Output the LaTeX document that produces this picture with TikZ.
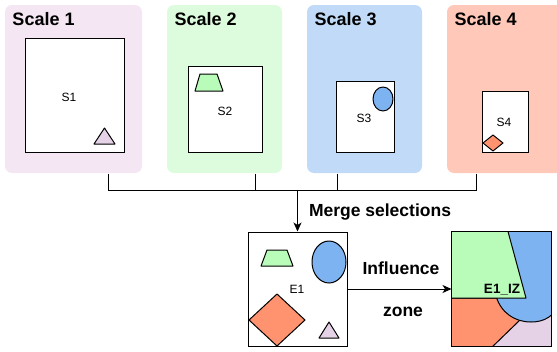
\documentclass[tikz,border=0pt]{standalone}
\usepackage{fontspec}
\setmainfont{Liberation Sans}
\usepackage{tikz}
\usetikzlibrary{arrows,arrows.meta,shapes,positioning,calc}
\definecolor{lilac}{HTML}{F4E6F2}
\definecolor{mint}{HTML}{DDFBDD}
\definecolor{sky}{HTML}{C1DAF7}
\definecolor{peach}{HTML}{FFC8B8}
\definecolor{shpink}{HTML}{E6D2E6}
\definecolor{shgreen}{HTML}{B9FBB9}
\definecolor{shblue}{HTML}{7EB3F2}
\definecolor{shsalmon}{HTML}{FF9370}
\tikzstyle{panel}=[rounded corners=7pt,inner sep=0pt,minimum height=168pt]
\tikzstyle{frame}=[draw,fill=white,inner sep=0pt,line width=1pt]
\tikzstyle{title}=[anchor=base west,inner sep=0pt,font=\fontsize{18}{20}\selectfont\bfseries]
\tikzstyle{lbl}=[inner sep=0pt,font=\fontsize{12}{14}\selectfont]
\tikzstyle{big}=[inner sep=0pt,font=\fontsize{17.5}{20}\selectfont\bfseries]
\tikzstyle{shp}=[draw,line width=1pt,line join=round]
\tikzstyle{flow}=[-{Stealth[length=9pt,width=8pt,inset=2.5pt]}]

\begin{document}
\begin{tikzpicture}[x=1pt,y=-1pt,line width=1pt]
\useasboundingbox (0,0) rectangle (557,351);

% the four scales
\node [panel,fill=lilac,minimum width=137pt] (p1) at (73.5,89) {};
\node [panel,fill=mint,minimum width=115pt] (p2) at (224.5,89) {};
\node [panel,fill=sky,minimum width=115pt] (p3) at (364.5,89) {};
\begin{scope}
\clip (0,0) rectangle (557,351);
\node [panel,fill=peach,minimum width=125pt] (p4) at (509.5,89) {};
\end{scope}
\node [title] (t1) at (12,25) {Scale 1};
\node [title] (t2) at (174,25) {Scale 2};
\node [title] (t3) at (314,25) {Scale 3};
\node [title] (t4) at (454,25) {Scale 4};

% selections
\node [frame,minimum width=99pt,minimum height=114pt] (s1) at (74.5,95) {};
\node [frame,minimum width=74pt,minimum height=86pt] (s2) at (225,109) {};
\node [frame,minimum width=58pt,minimum height=71pt] (s3) at (365,116.5) {};
\node [frame,minimum width=46pt,minimum height=61pt] (s4) at (505,121.5) {};
\node [lbl] (l1) at (69,97) {S1};
\node [lbl] (l2) at (225,111) {S2};
\node [lbl] (l3) at (364,118) {S3};
\node [lbl] (l4) at (504,122) {S4};
\draw [shp,fill=shpink] (94,144) -- (104.5,128) -- (115,144) -- cycle;
\draw [shp,fill=shgreen] (195,91) -- (200,74) -- (217,74) -- (223,91) -- cycle;
\draw [shp,fill=shblue] (383,99) ellipse [x radius=10,y radius=12];
\draw [shp,fill=shsalmon] (493,143) +(-10,0) -- +(0,-8) -- +(10,0) -- +(0,8) -- cycle;

% merged selection
\node [frame,minimum width=99pt,minimum height=114pt] (e1) at (297.5,289) {};
\node [frame,minimum width=99pt,minimum height=114pt] (iz) at (501.5,289) {};
\node [lbl] (le1) at (297,289) {E1};
\draw [shp,fill=shgreen] (261,266) -- (267,250) -- (287,250) -- (293,266) -- cycle;
\draw [shp,fill=shblue] (329,262) ellipse [x radius=17,y radius=21];
\draw [shp,fill=shsalmon] (277,320) +(-28,0) -- +(0,-26) -- +(28,0) -- +(0,26) -- cycle;
\draw [shp,fill=shpink] (319,338) -- (329,322) -- (339,338) -- cycle;

% influence zone
\begin{scope}
\clip (iz.north west) rectangle (iz.south east);
\draw [shp,fill=shpink] (488,350) -- (521,318) -- (560,300) -- (560,350) -- cycle;
\draw [shp,fill=shsalmon] (445,298) -- (500,298) -- (521,319) -- (489,350) -- (445,350) -- cycle;
\draw [shp,fill=shblue] (498,226) -- (560,226) -- (560,300)
  .. controls (556,317) and (543,322) .. (531,322)
  .. controls (515,322) and (501,313) .. (496,296) -- cycle;
\draw [shp,fill=shgreen] (445,226) -- (506.5,226) -- (526,298) -- (445,298) -- cycle;
\end{scope}
\draw [line width=1pt] (iz.north west) rectangle (iz.south east);
\node [inner sep=0pt,font=\fontsize{13.5}{15}\selectfont\bfseries] (liz) at (502,290) {E1\_IZ};

% connectors
\coordinate (j1) at (108,190.5);
\coordinate (j2) at (255,190.5);
\coordinate (j3) at (337,190.5);
\coordinate (j4) at (476,190.5);
\draw (p1.south -| j1) -- (j1);
\draw (p2.south -| j2) -- (j2);
\draw (p3.south -| j3) -- (j3);
\draw (p4.south -| j4) -- (j4);
\draw (j1) -- (j4);
\draw [flow] (e1.north |- j1) -- (e1.north);
\node [big] (merge) at (380,212) {Merge selections};
\draw [flow] (e1.east) -- (iz.west);
\node [big] (infl) at (401,268) {Influence};
\node [big] (zone) at (403,312) {zone};
\end{tikzpicture}
\end{document}
